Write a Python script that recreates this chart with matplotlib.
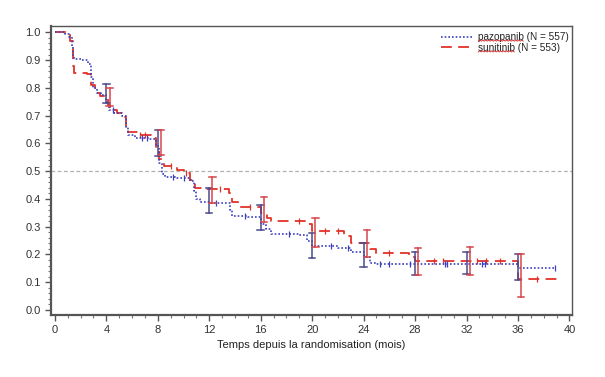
import matplotlib
matplotlib.use("Agg")
import matplotlib.pyplot as plt
import numpy as np
from matplotlib.lines import Line2D

plt.rcParams['font.family'] = ['Liberation Sans', 'DejaVu Sans']

# Pazopanib (N = 557) step curve
paz_t = [0, 0.8, 1.1, 1.3, 1.4, 1.5, 2.0, 2.6, 2.8, 3.0, 3.3, 3.6, 4.0, 4.2, 4.6, 5.2, 5.5, 5.7,
         6.2, 7.3, 7.9, 8.1, 8.3, 8.6, 9.5, 10.5, 10.8, 11.0, 11.3, 12.0, 13.6, 13.8, 15.0, 16.0,
         16.4, 16.8, 19.0, 19.6, 20.0, 22.0, 23.0, 24.0, 24.5, 25.0, 36.0, 38.9]
paz_s = [1.0, 0.995, 0.985, 0.95, 0.92, 0.905, 0.90, 0.885, 0.84, 0.80, 0.78, 0.775, 0.75, 0.72,
         0.71, 0.70, 0.66, 0.63, 0.62, 0.615, 0.59, 0.53, 0.49, 0.48, 0.475, 0.465, 0.43, 0.40, 0.39,
         0.385, 0.36, 0.34, 0.335, 0.31, 0.29, 0.275, 0.27, 0.25, 0.23, 0.225, 0.21, 0.19, 0.17,
         0.165, 0.15, 0.15]

# Sunitinib (N = 553) step curve
sun_t = [0, 0.9, 1.2, 1.4, 1.5, 2.5, 2.8, 3.1, 3.5, 4.1, 4.3, 4.8, 5.3, 5.5, 5.7, 6.5, 7.5, 7.9,
         8.1, 8.5, 9.5, 10.0, 10.5, 10.9, 11.5, 13.5, 13.8, 14.2, 16.0, 16.5, 16.8, 19.5, 20.0,
         22.5, 23.0, 24.5, 25.0, 27.5, 28.0, 36.0, 39.0]
sun_s = [1.0, 0.995, 0.97, 0.88, 0.855, 0.85, 0.81, 0.78, 0.77, 0.74, 0.72, 0.71, 0.695, 0.66,
         0.64, 0.63, 0.62, 0.58, 0.545, 0.52, 0.505, 0.495, 0.47, 0.44, 0.435, 0.42, 0.39, 0.37,
         0.35, 0.33, 0.32, 0.31, 0.285, 0.265, 0.24, 0.22, 0.205, 0.19, 0.175, 0.11, 0.11]

# Censoring marks
paz_cens = [4.5, 6.8, 7.2, 9.2, 10.0, 12.5, 14.8, 18.2, 21.5, 22.8, 25.3, 26.0, 27.6, 30.3,
            30.5, 33.2, 33.4, 38.9]
sun_cens = [6.6, 7.0, 9.0, 10.2, 12.8, 15.2, 19.0, 21.0, 22.0, 26.0, 29.5, 30.2, 32.8, 33.5,
            34.6, 37.5]

# Confidence interval bars
ci_t = [4, 8, 12, 16, 20, 24, 28, 32, 36]
paz_lo = [0.745, 0.555, 0.35, 0.288, 0.187, 0.156, 0.127, 0.13, 0.108]
paz_hi = [0.815, 0.647, 0.44, 0.378, 0.277, 0.24, 0.21, 0.21, 0.20]
sun_lo = [0.735, 0.56, 0.385, 0.318, 0.228, 0.19, 0.126, 0.126, 0.047]
sun_hi = [0.80, 0.65, 0.48, 0.408, 0.33, 0.288, 0.223, 0.228, 0.20]

x_ticks = [0, 4, 8, 12, 16, 20, 24, 28, 32, 36, 40]
y_ticks = [0.0, 0.1, 0.2, 0.3, 0.4, 0.5, 0.6, 0.7, 0.8, 0.9, 1.0]
drug_names = ['pazopanib', 'sunitinib']
legend_labels = ['pazopanib (N = 557)', 'sunitinib (N = 553)']

blue = '#3b3fbf'
red = '#e23229'
blue_bar = '#4a4a8c'
red_bar = '#d8454a'

fig = plt.figure(figsize=(6.05, 3.77), dpi=100)
ax = fig.add_axes([51/605, 1 - 315/377, (572-51)/605, (315-26)/377])

ax.axhline(0.5, color='#b0b0b0', lw=0.9, ls=(0, (3, 2)), zorder=1)

ax.step(paz_t, paz_s, where='post', color=blue, lw=1.2, ls=(0, (1, 1.2)),
        label=legend_labels[0], zorder=3)
ax.step(sun_t, sun_s, where='post', color=red, lw=1.3, ls=(0, (6, 3.5)),
        label=legend_labels[1], zorder=2)

def surv_at(ts, ss, t):
    idx = np.searchsorted(ts, t, side='right') - 1
    return ss[max(idx, 0)]

ax.plot(paz_cens, [surv_at(paz_t, paz_s, t) for t in paz_cens], ls='none', marker='|',
        ms=5, mew=0.9, color=blue, zorder=3)
ax.plot(sun_cens, [surv_at(sun_t, sun_s, t) for t in sun_cens], ls='none', marker='|',
        ms=5, mew=0.9, color=red, zorder=2)

for t, lo, hi in zip(ci_t, paz_lo, paz_hi):
    ax.plot([t, t], [lo, hi], color=blue_bar, lw=1.1, zorder=4)
    ax.plot([t - 0.25, t + 0.25], [lo, lo], color=blue_bar, lw=1.1, zorder=4)
    ax.plot([t - 0.25, t + 0.25], [hi, hi], color=blue_bar, lw=1.1, zorder=4)
for t, lo, hi in zip(ci_t, sun_lo, sun_hi):
    tt = t + 0.25
    ax.plot([tt, tt], [lo, hi], color=red_bar, lw=1.1, zorder=4)
    ax.plot([tt - 0.25, tt + 0.25], [lo, lo], color=red_bar, lw=1.1, zorder=4)
    ax.plot([tt - 0.25, tt + 0.25], [hi, hi], color=red_bar, lw=1.1, zorder=4)

ax.set_xlim(-0.3, 40.2)
ax.set_ylim(-0.018, 1.023)
ax.set_xticks(x_ticks)
ax.set_yticks(y_ticks)
ax.set_xticklabels([str(v) for v in x_ticks])
ax.set_yticklabels([f'{v:.1f}' for v in y_ticks])
ax.set_xticks(np.arange(0, 41, 1), minor=True)
ax.set_yticks(np.arange(0, 1.01, 0.02), minor=True)
ax.tick_params(axis='both', which='major', labelsize=8, colors='#555555', labelcolor='#333333',
               length=4, width=1)
ax.tick_params(axis='both', which='minor', colors='#777777', length=2, width=0.8)

for side in ['left', 'bottom']:
    ax.spines[side].set_linewidth(1.6)
    ax.spines[side].set_color('#555555')
for side in ['top', 'right']:
    ax.spines[side].set_linewidth(1.0)
    ax.spines[side].set_color('#555555')

ax.set_xlabel('Temps depuis la randomisation (mois)', fontsize=8, color='#222222', labelpad=3)

leg = ax.legend(loc='upper right', bbox_to_anchor=(569/605, 1 - 32/377),
                bbox_transform=fig.transFigure, fontsize=7.2, frameon=False,
                handlelength=3.3, handletextpad=0.4, labelspacing=0.08, borderpad=0,
                borderaxespad=0)
for txt in leg.get_texts():
    txt.set_color('#222222')

# Spell-check style red squiggly underline under the drug names
fig.canvas.draw()
renderer = fig.canvas.get_renderer()
for txt, name in zip(leg.get_texts(), drug_names):
    bb = txt.get_window_extent(renderer)
    probe = fig.text(0, 0, name, fontsize=7.2, family=['Liberation Sans', 'DejaVu Sans'])
    w = probe.get_window_extent(renderer).width
    probe.remove()
    x0 = bb.x0
    xs = np.arange(x0, x0 + w + 0.1, 1.5)
    ys = bb.y0 + 0.8 + np.where(np.arange(len(xs)) % 2 == 0, 0.0, 1.2)
    fx, fy = fig.transFigure.inverted().transform(np.column_stack([xs, ys])).T
    fig.add_artist(Line2D(fx, fy, color='#d02020', lw=0.6))

fig.savefig('out.png', dpi=100)
